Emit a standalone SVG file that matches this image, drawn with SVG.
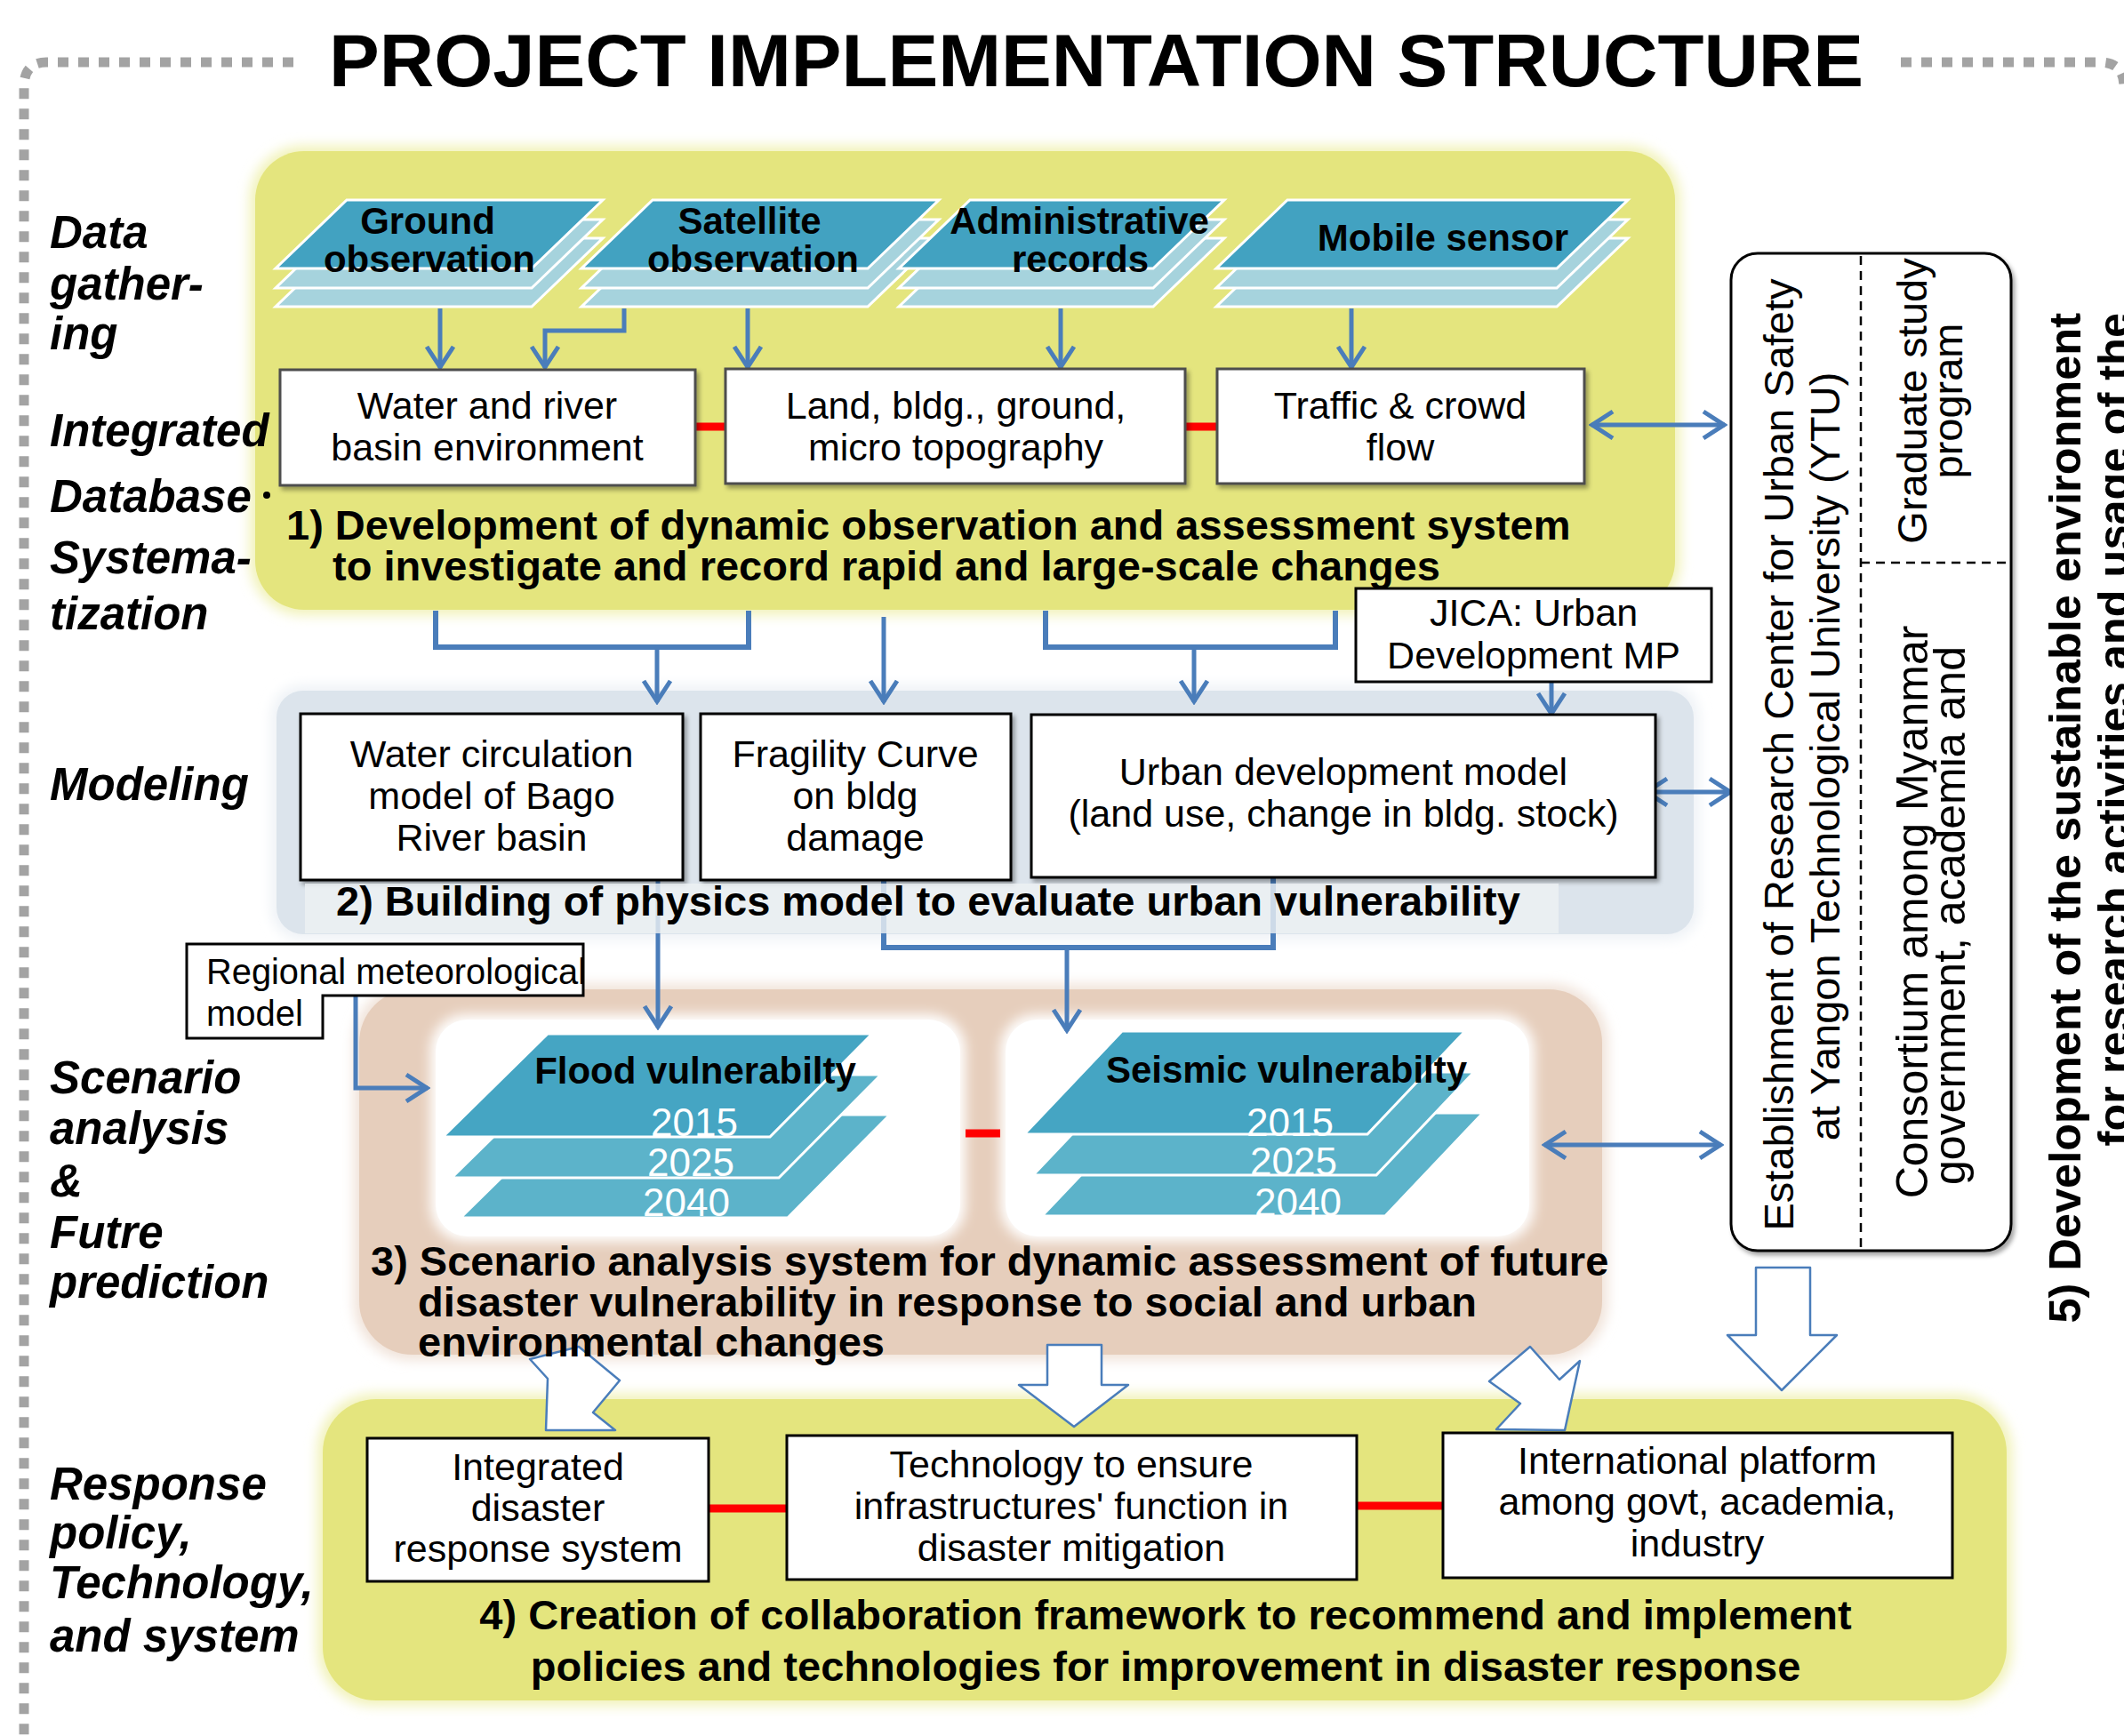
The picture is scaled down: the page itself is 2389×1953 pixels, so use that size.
<svg xmlns="http://www.w3.org/2000/svg" width="2389" height="1953" viewBox="0 0 2389 1953">
<defs>
<style>
text{font-family:"Liberation Sans",Arial,sans-serif;fill:#000}
.side{font-style:italic;font-weight:bold;font-size:51px}
.box{fill:#fff;stroke:#000;stroke-width:3}
.box1{fill:#fff;stroke:#4d4d4d;stroke-width:3}
.bt{font-size:43px;text-anchor:middle}
.st{font-weight:bold;font-size:42px;text-anchor:middle}
.hd{font-weight:bold;font-size:47px}
.arr{fill:none;stroke:#4a7dba;stroke-width:5;marker-end:url(#ah)}
.dbl{fill:none;stroke:#4a7dba;stroke-width:5;marker-end:url(#ah);marker-start:url(#ah)}
.ln{fill:none;stroke:#4a7dba;stroke-width:6}
.red{stroke:#f00;stroke-width:9}
.dark{fill:#42a2c1;stroke:#fff;stroke-width:3}
.light{fill:#a6d3dd;stroke:#fff;stroke-width:3}
.fl1{fill:#45a5c3;stroke:#fff;stroke-width:3}
.fl2{fill:#5cb3ca;stroke:#fff;stroke-width:3}
.yr{fill:#fff;font-size:44px;text-anchor:middle}
.blk{fill:#fff;stroke:#4a7dba;stroke-width:2.5;stroke-linejoin:round}
.frame{fill:none;stroke:#a3a3a3;stroke-width:11;stroke-dasharray:12 11}
.dash{stroke:#000;stroke-width:2.5;stroke-dasharray:10 7}
.rt{font-size:47px}
</style>
<marker id="ah" markerUnits="userSpaceOnUse" markerWidth="40" markerHeight="40" viewBox="0 0 40 40" refX="37" refY="20" orient="auto-start-reverse">
<path d="M13,5 L36,20 L13,35" fill="none" stroke="#4a7dba" stroke-width="5"/>
</marker>
<filter id="soft" x="-10%" y="-10%" width="120%" height="120%"><feGaussianBlur stdDeviation="7"/></filter>
<filter id="shd" x="-5%" y="-5%" width="115%" height="120%"><feDropShadow dx="3" dy="4" stdDeviation="2.5" flood-color="#000" flood-opacity="0.35"/></filter>
</defs>
<rect width="2389" height="1953" fill="#fff"/>

<g id="frame">
<path class="frame" d="M330,70 H52 Q27,70 27,98 V1953"/>
<path class="frame" d="M2138,70 H2362 Q2389,70 2389,98"/>
</g>

<text id="title" x="370" y="97" font-size="84" font-weight="bold" textLength="1726" lengthAdjust="spacingAndGlyphs">PROJECT IMPLEMENTATION STRUCTURE</text>

<g id="panels">
<rect x="281" y="164" width="1609" height="528" rx="60" fill="#f1f2b8" filter="url(#soft)"/>
<rect x="287" y="170" width="1597" height="516" rx="55" fill="#e4e57e"/>
<rect x="305" y="771" width="1606" height="286" rx="34" fill="#eef2f6" filter="url(#soft)"/>
<rect x="311" y="777" width="1594" height="274" rx="30" fill="#dce4ec"/>
<rect x="398" y="1107" width="1410" height="423" rx="64" fill="#f0e2d8" filter="url(#soft)"/>
<rect x="404" y="1113" width="1398" height="411" rx="60" fill="#e6cebc"/>
<rect x="357" y="1568" width="1906" height="351" rx="64" fill="#f1f2b8" filter="url(#soft)"/>
<rect x="363" y="1574" width="1894" height="339" rx="60" fill="#e4e57e"/>
<rect x="484" y="1141" width="602" height="256" rx="40" fill="#fff" filter="url(#soft)"/>
<rect x="1125" y="1141" width="601" height="256" rx="40" fill="#fff" filter="url(#soft)"/>
<rect x="490" y="1147" width="590" height="244" rx="36" fill="#fff"/>
<rect x="1131" y="1147" width="589" height="244" rx="36" fill="#fff"/>
</g>

<g id="side-labels">
<text class="side" x="56" y="279">Data</text>
<text class="side" x="56" y="337">gather-</text>
<text class="side" x="56" y="393">ing</text>
<text class="side" x="56" y="502">Integrated</text>
<text class="side" x="56" y="576">Database</text>
<circle cx="300" cy="557" r="4" fill="#000"/>
<text class="side" x="56" y="645">Systema-</text>
<text class="side" x="56" y="708">tization</text>
<text class="side" x="56" y="900">Modeling</text>
<text class="side" x="56" y="1230">Scenario</text>
<text class="side" x="56" y="1287">analysis</text>
<text class="side" x="56" y="1346">&amp;</text>
<text class="side" x="56" y="1404">Futre</text>
<text class="side" x="56" y="1460">prediction</text>
<text class="side" x="56" y="1687">Response</text>
<text class="side" x="56" y="1742">policy,</text>
<text class="side" x="56" y="1798">Technology,</text>
<text class="side" x="56" y="1858">and system</text>
</g>

<g id="connectors">
<path class="arr" d="M495,347 V414"/>
<path class="arr" d="M702,347 V372 H613 V414"/>
<path class="arr" d="M841,347 V414"/>
<path class="arr" d="M1193,347 V414"/>
<path class="arr" d="M1520,347 V414"/>
<line class="red" x1="782" y1="480" x2="816" y2="480"/>
<line class="red" x1="1333" y1="480" x2="1369" y2="480"/>
<path class="ln" d="M490,687 V728 H842 V687"/>
<path class="arr" d="M739,728 V790"/>
<path class="arr" d="M994,694 V790"/>
<path class="ln" d="M1176,687 V728 H1502 V687"/>
<path class="arr" d="M1343,728 V790"/>
<path class="arr" d="M1745,767 V804"/>
<path class="arr" d="M740,990 V1156"/>
<path class="ln" d="M994,990 V1066 H1432 V987"/>
<path class="arr" d="M1200,1066 V1160"/>
<path class="arr" d="M400,1120 V1224 H481"/>
<path class="dbl" d="M1790,478 H1940"/>
<path class="dbl" d="M1851,891 H1947"/>
<path class="dbl" d="M1737,1288 H1936"/>
<line class="red" x1="1086" y1="1275" x2="1125" y2="1275"/>
<line class="red" x1="797" y1="1697" x2="885" y2="1697"/>
<line class="red" x1="1526" y1="1694" x2="1623" y2="1694"/>
<polygon class="blk" points="651,1515 697,1553 667,1589 692,1609 614,1609 616,1551 596,1529"/>
<polygon class="blk" points="1178,1513 1239,1513 1239,1558 1269,1558 1208,1605 1146,1558 1178,1558"/>
<polygon class="blk" points="1721,1515 1754,1552 1777,1531 1760,1609 1683,1608 1710,1579 1675,1554"/>
<polygon class="blk" points="1975,1426 2036,1426 2036,1502 2066,1502 2004,1564 1943,1502 1975,1502"/>
</g>

<g id="src-ground">
<polygon class="light" points="390,268 678,268 598,345 310,345"/>
<polygon class="light" points="390,247 678,247 598,324 310,324"/>
<polygon class="dark" points="390,225 678,225 598,302 310,302"/>
<text class="st" x="481" y="263">Ground</text>
<text class="st" x="483" y="306">observation</text>
</g>
<g id="src-satellite">
<polygon class="light" points="734,268 1056,268 976,345 654,345"/>
<polygon class="light" points="734,247 1056,247 976,324 654,324"/>
<polygon class="dark" points="734,225 1056,225 976,302 654,302"/>
<text class="st" x="843" y="263">Satellite</text>
<text class="st" x="847" y="306">observation</text>
</g>
<g id="src-admin">
<polygon class="light" points="1091,268 1377,268 1297,345 1011,345"/>
<polygon class="light" points="1091,247 1377,247 1297,324 1011,324"/>
<polygon class="dark" points="1091,225 1377,225 1297,302 1011,302"/>
<text class="st" x="1214" y="263">Administrative</text>
<text class="st" x="1215" y="306">records</text>
</g>
<g id="src-mobile">
<polygon class="light" points="1448,268 1831,268 1751,345 1368,345"/>
<polygon class="light" points="1448,247 1831,247 1751,324 1368,324"/>
<polygon class="dark" points="1448,225 1831,225 1751,302 1368,302"/>
<text class="st" x="1623" y="282">Mobile sensor</text>
</g>

<g id="db-water">
<rect class="box1" x="315" y="416" width="467" height="130" filter="url(#shd)"/>
<text class="bt" x="548" y="471">Water and river</text>
<text class="bt" x="548" y="518">basin environment</text>
</g>
<g id="db-land">
<rect class="box1" x="816" y="415" width="517" height="129" filter="url(#shd)"/>
<text class="bt" x="1075" y="471">Land, bldg., ground,</text>
<text class="bt" x="1075" y="518">micro topography</text>
</g>
<g id="db-traffic">
<rect class="box1" x="1369" y="415" width="413" height="129" filter="url(#shd)"/>
<text class="bt" x="1575" y="471">Traffic &amp; crowd</text>
<text class="bt" x="1575" y="518">flow</text>
</g>
<g id="heading-1">
<text class="hd" x="322" y="607">1) Development of dynamic observation and assessment system</text>
<text class="hd" x="374" y="653">to investigate and record rapid and large-scale changes</text>
</g>

<g id="jica">
<rect class="box" x="1525" y="662" width="400" height="105"/>
<text class="bt" x="1725" y="704">JICA: Urban</text>
<text class="bt" x="1725" y="752">Development MP</text>
</g>
<g id="model-water">
<rect class="box" x="338" y="803" width="430" height="187" filter="url(#shd)"/>
<text class="bt" x="553" y="863">Water circulation</text>
<text class="bt" x="553" y="910">model of Bago</text>
<text class="bt" x="553" y="957">River basin</text>
</g>
<g id="model-fragility">
<rect class="box" x="788" y="803" width="349" height="187" filter="url(#shd)"/>
<text class="bt" x="962" y="863">Fragility Curve</text>
<text class="bt" x="962" y="910">on bldg</text>
<text class="bt" x="962" y="957">damage</text>
</g>
<g id="model-urban">
<rect class="box" x="1160" y="804" width="702" height="183" filter="url(#shd)"/>
<text class="bt" x="1511" y="883">Urban development model</text>
<text class="bt" x="1511" y="930">(land use, change in bldg. stock)</text>
</g>
<g id="heading-2">
<rect x="343" y="994" width="1410" height="56" fill="#eef1f4" opacity="0.8"/>
<text class="hd" x="378" y="1030">2) Building of physics model to evaluate urban vulnerability</text>
</g>

<g id="regional">
<path d="M210,1062 H656 V1120 H363 V1168 H210 Z" fill="#fff" stroke="#000" stroke-width="3"/>
<text x="232" y="1107" font-size="40" textLength="427" lengthAdjust="spacingAndGlyphs">Regional meteorological</text>
<text x="232" y="1154" font-size="40">model</text>
</g>

<g id="flood">
<polygon class="fl2" points="636,1254 1001,1254 886,1370 518,1370"/>
<polygon class="fl2" points="626,1209 991,1209 876,1325 508,1325"/>
<polygon class="fl1" points="616,1163 981,1163 866,1279 498,1279"/>
<text class="st" x="782" y="1219">Flood vulnerabilty</text>
<text class="yr" x="781" y="1278">2015</text>
<text class="yr" x="777" y="1323">2025</text>
<text class="yr" x="772" y="1368">2040</text>
</g>
<g id="seismic">
<polygon class="fl2" points="1282,1252 1668,1252 1558,1368 1172,1368"/>
<polygon class="fl2" points="1272,1206 1658,1206 1548,1322 1162,1322"/>
<polygon class="fl1" points="1262,1160 1648,1160 1538,1276 1152,1276"/>
<text class="st" x="1447" y="1218">Seismic vulnerabilty</text>
<text class="yr" x="1451" y="1278">2015</text>
<text class="yr" x="1455" y="1322">2025</text>
<text class="yr" x="1460" y="1368">2040</text>
</g>
<g id="heading-3">
<text class="hd" x="417" y="1435">3) Scenario analysis system for dynamic assessment of future</text>
<text class="hd" x="470" y="1481">disaster vulnerability in response to social and urban</text>
<text class="hd" x="470" y="1526">environmental changes</text>
</g>

<g id="resp-integrated">
<rect class="box" x="413" y="1618" width="384" height="161"/>
<text class="bt" x="605" y="1665">Integrated</text>
<text class="bt" x="605" y="1711">disaster</text>
<text class="bt" x="605" y="1757">response system</text>
</g>
<g id="resp-technology">
<rect class="box" x="885" y="1615" width="641" height="162"/>
<text class="bt" x="1205" y="1662">Technology to ensure</text>
<text class="bt" x="1205" y="1709">infrastructures' function in</text>
<text class="bt" x="1205" y="1756">disaster mitigation</text>
</g>
<g id="resp-platform">
<rect class="box" x="1623" y="1612" width="573" height="163"/>
<text class="bt" x="1909" y="1658">International platform</text>
<text class="bt" x="1909" y="1704">among govt, academia,</text>
<text class="bt" x="1909" y="1751">industry</text>
</g>
<g id="heading-4">
<text class="hd" x="1311" y="1833" text-anchor="middle">4) Creation of collaboration framework to recommend and implement</text>
<text class="hd" x="1311" y="1891" text-anchor="middle">policies and technologies for improvement in disaster response</text>
</g>

<g id="ytu">
<rect x="1947" y="285" width="315" height="1122" rx="30" fill="#fff" stroke="#000" stroke-width="3" filter="url(#shd)"/>
<line class="dash" x1="2093" y1="288" x2="2093" y2="1404"/>
<line class="dash" x1="2093" y1="633" x2="2259" y2="633"/>
<text class="rt" transform="translate(2017,849) rotate(-90)" text-anchor="middle">Establishment of Research Center for Urban Safety</text>
<text class="rt" transform="translate(2069,851) rotate(-90)" text-anchor="middle">at Yangon Technological University (YTU)</text>
<text class="rt" transform="translate(2167,451) rotate(-90)" text-anchor="middle">Graduate study</text>
<text class="rt" transform="translate(2207,451) rotate(-90)" text-anchor="middle">program</text>
<text font-size="50" transform="translate(2168,1026) rotate(-90)" text-anchor="middle">Consortium among Myanmar</text>
<text font-size="50" transform="translate(2210,1030) rotate(-90)" text-anchor="middle">government, academia and</text>
</g>

<g id="heading-5">
<text font-weight="bold" font-size="50.5" transform="translate(2340,352) rotate(-90)" text-anchor="end">5) Development of the sustainable environment</text>
<text font-weight="bold" font-size="50.5" transform="translate(2395,352) rotate(-90)" text-anchor="end">for research activities and usage of the</text>
</g>
</svg>
